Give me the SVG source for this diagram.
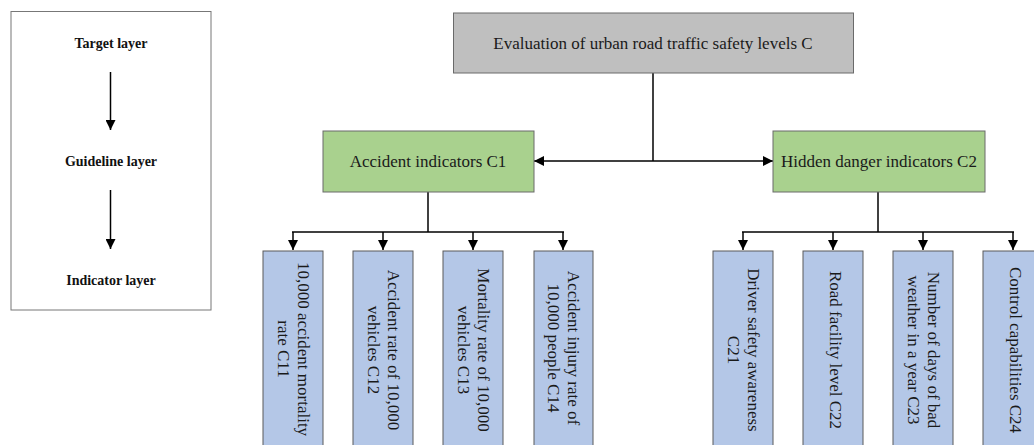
<svg xmlns="http://www.w3.org/2000/svg" width="1034" height="445" viewBox="0 0 1034 445">
<style>
.t{font-family:"Liberation Serif","Times New Roman",serif;font-size:17px;fill:#1a1a1a;text-anchor:middle;dominant-baseline:central}
.lg{font-family:"Liberation Serif","Times New Roman",serif;font-size:14px;font-weight:bold;fill:#111;text-anchor:middle;dominant-baseline:central}
.ln{stroke:#000;stroke-width:1.5;fill:none}
.leaf{fill:#b4c7e7;stroke:#5a5a5a;stroke-width:1}
.mid{fill:#a9d18e;stroke:#6a6a6a;stroke-width:1}
</style>
<defs>
<marker id="ah2" viewBox="0 0 10 10" refX="10" refY="5" markerWidth="10" markerHeight="10" markerUnits="userSpaceOnUse" orient="auto"><path d="M0,0 L10,5 L0,10 Z" fill="#000"/></marker>
</defs>
<g id="legend">
<rect x="11" y="11.5" width="200" height="298.5" fill="#fff" stroke="#777" stroke-width="1"/>
<text class="lg" x="111" y="43">Target layer</text>
<text class="lg" x="111" y="161">Guideline layer</text>
<text class="lg" x="111" y="280">Indicator layer</text>
<line class="ln" x1="110.5" y1="72" x2="110.5" y2="130" marker-end="url(#ah2)"/>
<line class="ln" x1="110.5" y1="190" x2="110.5" y2="249" marker-end="url(#ah2)"/>
</g>
<g id="connectors">
<line class="ln" x1="653" y1="73" x2="653" y2="161"/>
<line class="ln" x1="653" y1="161" x2="534" y2="161" marker-end="url(#ah2)"/>
<line class="ln" x1="653" y1="161" x2="773" y2="161" marker-end="url(#ah2)"/>
<line class="ln" x1="428" y1="192" x2="428" y2="232"/>
<line class="ln" x1="292" y1="232" x2="564" y2="232"/>
<line class="ln" x1="293" y1="232" x2="293" y2="250" marker-end="url(#ah2)"/>
<line class="ln" x1="383" y1="232" x2="383" y2="250" marker-end="url(#ah2)"/>
<line class="ln" x1="473" y1="232" x2="473" y2="250" marker-end="url(#ah2)"/>
<line class="ln" x1="563" y1="232" x2="563" y2="250" marker-end="url(#ah2)"/>
<line class="ln" x1="878" y1="192" x2="878" y2="232"/>
<line class="ln" x1="742" y1="232" x2="1014" y2="232"/>
<line class="ln" x1="743" y1="232" x2="743" y2="250" marker-end="url(#ah2)"/>
<line class="ln" x1="833" y1="232" x2="833" y2="250" marker-end="url(#ah2)"/>
<line class="ln" x1="923" y1="232" x2="923" y2="250" marker-end="url(#ah2)"/>
<line class="ln" x1="1013" y1="232" x2="1013" y2="250" marker-end="url(#ah2)"/>
</g>
<g id="root">
<rect x="453.5" y="13" width="400" height="60" fill="#bfbfbf" stroke="#6a6a6a" stroke-width="1"/>
<text class="t" x="653" y="43">Evaluation of urban road traffic safety levels C</text>
</g>
<g id="c1">
<rect class="mid" x="323" y="131" width="211" height="61"/>
<text class="t" x="428" y="161">Accident indicators C1</text>
</g>
<g id="c2">
<rect class="mid" x="773" y="131" width="212" height="61"/>
<text class="t" x="879" y="161">Hidden danger indicators C2</text>
</g>
<g id="c11">
<rect class="leaf" x="263" y="251" width="60" height="200"/>
<text class="t" transform="translate(294,349) rotate(90)"><tspan x="0" y="-10">10,000 accident mortality</tspan><tspan x="0" y="10">rate C11</tspan></text>
</g>
<g id="c12">
<rect class="leaf" x="353" y="251" width="60" height="200"/>
<text class="t" transform="translate(384,350) rotate(90)"><tspan x="0" y="-10">Accident rate of 10,000</tspan><tspan x="0" y="10">vehicles C12</tspan></text>
</g>
<g id="c13">
<rect class="leaf" x="443" y="251" width="60" height="200"/>
<text class="t" transform="translate(474,350) rotate(90)"><tspan x="0" y="-10">Mortality rate of 10,000</tspan><tspan x="0" y="10">vehicles C13</tspan></text>
</g>
<g id="c14">
<rect class="leaf" x="534" y="251" width="59" height="200"/>
<text class="t" transform="translate(564,348) rotate(90)"><tspan x="0" y="-10">Accident injury rate of</tspan><tspan x="0" y="10">10,000 people C14</tspan></text>
</g>
<g id="c21">
<rect class="leaf" x="713" y="251" width="60" height="200"/>
<text class="t" transform="translate(744,350) rotate(90)"><tspan x="0" y="-10">Driver safety awareness</tspan><tspan x="0" y="10">C21</tspan></text>
</g>
<g id="c22">
<rect class="leaf" x="803" y="251" width="60" height="200"/>
<text class="t" transform="translate(835,350) rotate(90)">Road facility level C22</text>
</g>
<g id="c23">
<rect class="leaf" x="893" y="251" width="60" height="200"/>
<text class="t" transform="translate(924,350) rotate(90)"><tspan x="0" y="-10">Number of days of bad</tspan><tspan x="0" y="10">weather in a year C23</tspan></text>
</g>
<g id="c24">
<rect class="leaf" x="983" y="251" width="60" height="200"/>
<text class="t" transform="translate(1015,350) rotate(90)">Control capabilities C24</text>
</g>
</svg>
